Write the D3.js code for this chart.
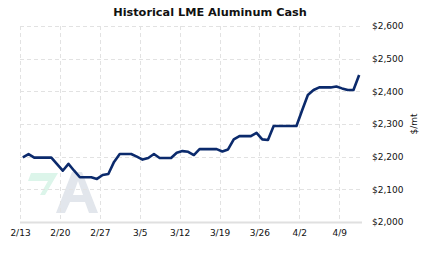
<!DOCTYPE html>
<html><head><meta charset="utf-8">
<script src="https://cdn.jsdelivr.net/npm/d3@7"></script>
<style>
html,body{margin:0;padding:0;background:#fff;}
svg text{font-family:"DejaVu Sans",Verdana,sans-serif;}
</style></head>
<body><svg id="c" width="423" height="257"></svg>
<script>
const title = "Historical LME Aluminum Cash";
const startDate = "2012-02-13";
const dayOffsets = [0,1,2,3,4,5,6,7,8,9,10,11,12,13,14,15,16,17,18,19,20,21,22,23,24,25,26,27,28,29,30,31,32,33,34,35,36,37,38,39,40,41,42,43,44,45,46,47,48,49,50,51,52,53,54,55,56,57,58,59];
const prices = [2198,2208,2197,2197,2197,2197,2177,2157,2178,2157,2137,2137,2137,2132,2144,2147,2184,2208,2208,2208,2200,2191,2196,2208,2196,2196,2196,2212,2217,2215,2205,2223,2223,2223,2223,2216,2222,2253,2263,2263,2263,2273,2253,2251,2294,2294,2294,2294,2294,2342,2389,2404,2412,2412,2412,2415,2409,2404,2404,2450];
const xTickDates = ["2012-02-13","2012-02-20","2012-02-27","2012-03-05","2012-03-12","2012-03-19","2012-03-26","2012-04-02","2012-04-09"];
const yTicks = [2000,2100,2200,2300,2400,2500,2600];
const yUnit = "$/mt";

const svg = d3.select("#c");
const L = 20, R = 362, T = 26, B = 222;
const parse = d3.utcParse("%Y-%m-%d");
const t0 = parse(startDate);
const x = d3.scaleUtc().domain([t0, d3.utcDay.offset(t0, 60)]).range([L, R]);
const y = d3.scaleLinear().domain([2000, 2600]).range([B, T]);
const data = dayOffsets.map((d, i) => ({date: d3.utcHour.offset(d3.utcDay.offset(t0, d), 12), v: prices[i]}));

// watermark logo
const wm = svg.append("g");
wm.append("path").attr("d","M31,173 L58,173 L45,195 L40,195 L48,181 L28,181 Z").attr("fill","#dcf5ea");
wm.append("path").attr("d","M72,172 L82,172 L98,213 L89,213 L85,202 L70,202 L65,213 L56,213 Z M73,195 L83,195 L78,181 Z").attr("fill","#e2e6ec").attr("fill-rule","evenodd");

// grid
const grid = svg.append("g").attr("stroke","#e2e2e2").attr("stroke-width",1).attr("stroke-dasharray","4,3");
yTicks.filter(v => v > 2000).forEach(v => {
  grid.append("line").attr("x1",L).attr("x2",R).attr("y1",Math.round(y(v))+0.5).attr("y2",Math.round(y(v))+0.5);
});
xTickDates.forEach(s => {
  const xx = Math.round(x(parse(s)))+0.5;
  grid.append("line").attr("x1",xx).attr("x2",xx).attr("y1",T).attr("y2",B);
});
// bottom axis line
svg.append("line").attr("x1",L).attr("x2",R).attr("y1",B+0.5).attr("y2",B+0.5).attr("stroke","#e0e0e0").attr("stroke-width",2);

// x labels
const xAxis = d3.axisBottom(x).tickValues(xTickDates.map(parse)).tickFormat(d3.utcFormat("%-m/%-d")).tickSize(0).tickPadding(8);
const gx = svg.append("g").attr("transform",`translate(0,${B})`).call(xAxis);
gx.select(".domain").remove();
gx.selectAll("text").attr("font-size","9px").attr("fill","#111").attr("font-family","DejaVu Sans");

// y labels on right
const fmt = v => "$" + d3.format(",")(v);
const yAxis = d3.axisRight(y).tickValues(yTicks).tickFormat(fmt).tickSize(0).tickPadding(10);
const gy = svg.append("g").attr("transform",`translate(${R},0)`).call(yAxis);
gy.select(".domain").remove();
gy.selectAll("text").attr("font-size","9px").attr("fill","#111").attr("font-family","DejaVu Sans");

svg.append("text").attr("transform","translate(414,124) rotate(-90)").attr("text-anchor","middle")
  .attr("dy","0.35em").attr("font-size","9px").attr("fill","#111").text(yUnit);

// line
svg.append("path").datum(data)
  .attr("d", d3.line().x(d => x(d.date)).y(d => y(d.v)))
  .attr("fill","none").attr("stroke","#0b2a6c").attr("stroke-width",2.6).attr("stroke-linejoin","round");

// title
svg.append("text").attr("x",210).attr("y",16).attr("text-anchor","middle")
  .attr("font-size","11.3px").attr("font-weight","bold").attr("fill","#111").text(title);
</script></body></html>
